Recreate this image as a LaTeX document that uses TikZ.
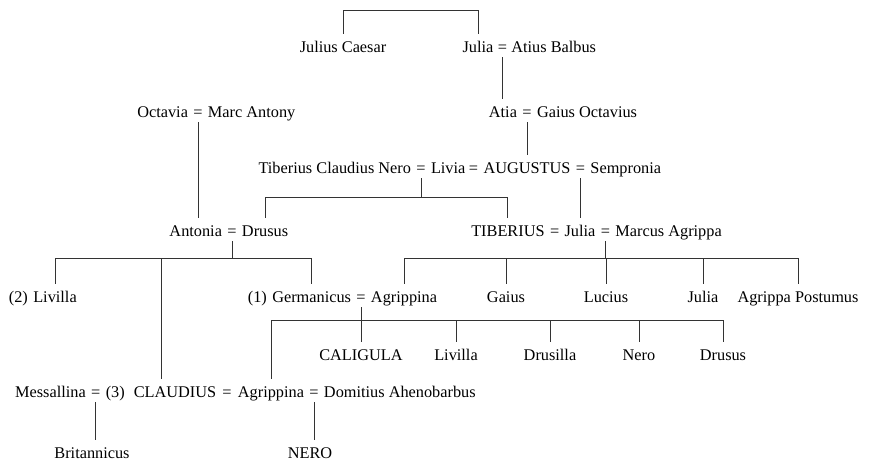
\documentclass[tikz,border=0pt]{standalone}
\usepackage{fontspec}
\setmainfont{Liberation Serif}
\usetikzlibrary{positioning,calc}

\begin{document}
\begin{tikzpicture}[x=1pt, y=-1pt, node distance=5pt,
  pers/.style={inner xsep=0pt, inner ysep=5pt, text height=13pt, text depth=0pt,
    font=\fontsize{16.3}{18}\selectfont},
  eq/.style={pers},
  link/.style={line width=0.9pt, black!80}]
\useasboundingbox (0,0) rectangle (871,461);
% first generations
\node[pers, anchor=base] (caesar) at (343,52) {Julius Caesar};
\node[pers, anchor=base] (julia1) at (478,52) {Julia};
\node[eq, right=4pt of julia1] (m1) {=};
\node[pers, right=4pt of m1] (balbus) {Atius Balbus};
\node[eq, anchor=base] (m2) at (198,117) {=};
\node[pers, left=of m2] (octavia) {Octavia};
\node[pers, right=of m2] (antony) {Marc Antony};
\node[eq, anchor=base] (m3) at (527,117) {=};
\node[pers, left=of m3] (atia) {Atia};
\node[pers, right=of m3] (octavius) {Gaius Octavius};
\node[eq, anchor=base] (m4) at (421,173) {=};
\node[pers, left=of m4] (tcnero) {Tiberius Claudius Nero};
\node[pers, right=of m4] (livia) {Livia};
\node[pers, anchor=base] (augustus) at (527,173) {AUGUSTUS};
\node[eq, left=of augustus] (m5) {=};
\node[eq, right=of augustus] (m6) {=};
\node[pers, right=of m6] (sempronia) {Sempronia};
% children of Livia
\node[eq, anchor=base] (m7) at (232,236) {=};
\node[pers, left=of m7] (antonia) {Antonia};
\node[pers, right=of m7] (drusus1) {Drusus};
\node[pers, anchor=base] (julia2) at (580,236) {Julia};
\node[eq, left=of julia2] (m8) {=};
\node[pers, left=of m8] (tiberius) {TIBERIUS};
\node[eq, right=of julia2] (m9) {=};
\node[pers, right=of m9] (agrippa) {Marcus Agrippa};
% grandchildren
\node[pers, anchor=base] (livilla1) at (55,302) {Livilla};
\node[pers, left=of livilla1] (n2) {(2)};
\node[eq, anchor=base] (m10) at (361,302) {=};
\node[pers, left=of m10] (germanicus) {Germanicus};
\node[pers, left=of germanicus] (n1) {(1)};
\node[pers, right=of m10] (agrippina1) {Agrippina};
\node[pers, anchor=base] (gaius) at (506,302) {Gaius};
\node[pers, anchor=base] (lucius) at (606,302) {Lucius};
\node[pers, anchor=base] (julia3) at (703,302) {Julia};
\node[pers, anchor=base] (postumus) at (798,302) {Agrippa Postumus};
\node[pers, anchor=base] (caligula) at (361,360) {CALIGULA};
\node[pers, anchor=base] (livilla2) at (456,360) {Livilla};
\node[pers, anchor=base] (drusilla) at (550,360) {Drusilla};
\node[pers, anchor=base] (nero1) at (639,360) {Nero};
\node[pers, anchor=base] (drusus2) at (723,360) {Drusus};
% Claudius and the last line
\node[pers, anchor=base] (claudius) at (161,397) {(3)\hspace{5pt} CLAUDIUS};
\node[eq, left=of claudius] (m11) {=};
\node[pers, left=of m11] (messallina) {Messallina};
\node[eq, anchor=base] (m13) at (314,397) {=};
\node[pers, left=of m13] (agrippina2) {Agrippina};
\node[eq] (m12) at ($(claudius.east)!0.5!(agrippina2.west)$) {=};
\node[pers, right=of m13] (domitius) {Domitius Ahenobarbus};
\node[pers, anchor=base] (britannicus) at (92,458) {Britannicus};
\node[pers, anchor=base] (nero2) at (310,458) {NERO};

\draw[link] (caesar.north) -- ++(0,-23) -| (julia1.north);
\draw[link] (m1.south) -- (m1.south |- atia.north);
\draw[link] (m3.south) -- (m3.south |- augustus.north);
\draw[link] (m2.south) -- (m2.south |- antonia.north);
\draw[link] (m4.south) -- ++(0,19) -| (drusus1.north);
\draw[link] (m4.south) ++(0,19) -| (tiberius.north);
\draw[link] (m6.south) -- (m6.south |- julia2.north);
\draw[link] (m7.south) -- ++(0,17) -| (livilla1.north);
\draw[link] (m7.south) ++(0,17) -| (claudius.north);
\draw[link] (m7.south) ++(0,17) -| (germanicus.north);
\draw[link] (m9.south) -- ++(0,17) -| (agrippina1.north);
\draw[link] (m9.south) ++(0,17) -| (gaius.north);
\draw[link] (m9.south) ++(0,17) -| (lucius.north);
\draw[link] (m9.south) ++(0,17) -| (julia3.north);
\draw[link] (m9.south) ++(0,17) -| (postumus.north);
\draw[link] (m10.south) -- ++(0,13) -| (agrippina2.north);
\draw[link] (m10.south) ++(0,13) -| (caligula.north);
\draw[link] (m10.south) ++(0,13) -| (livilla2.north);
\draw[link] (m10.south) ++(0,13) -| (drusilla.north);
\draw[link] (m10.south) ++(0,13) -| (nero1.north);
\draw[link] (m10.south) ++(0,13) -| (drusus2.north);
\draw[link] (m11.south) -- (m11.south |- britannicus.north);
\draw[link] (m13.south) -- (m13.south |- nero2.north);
\end{tikzpicture}
\end{document}
